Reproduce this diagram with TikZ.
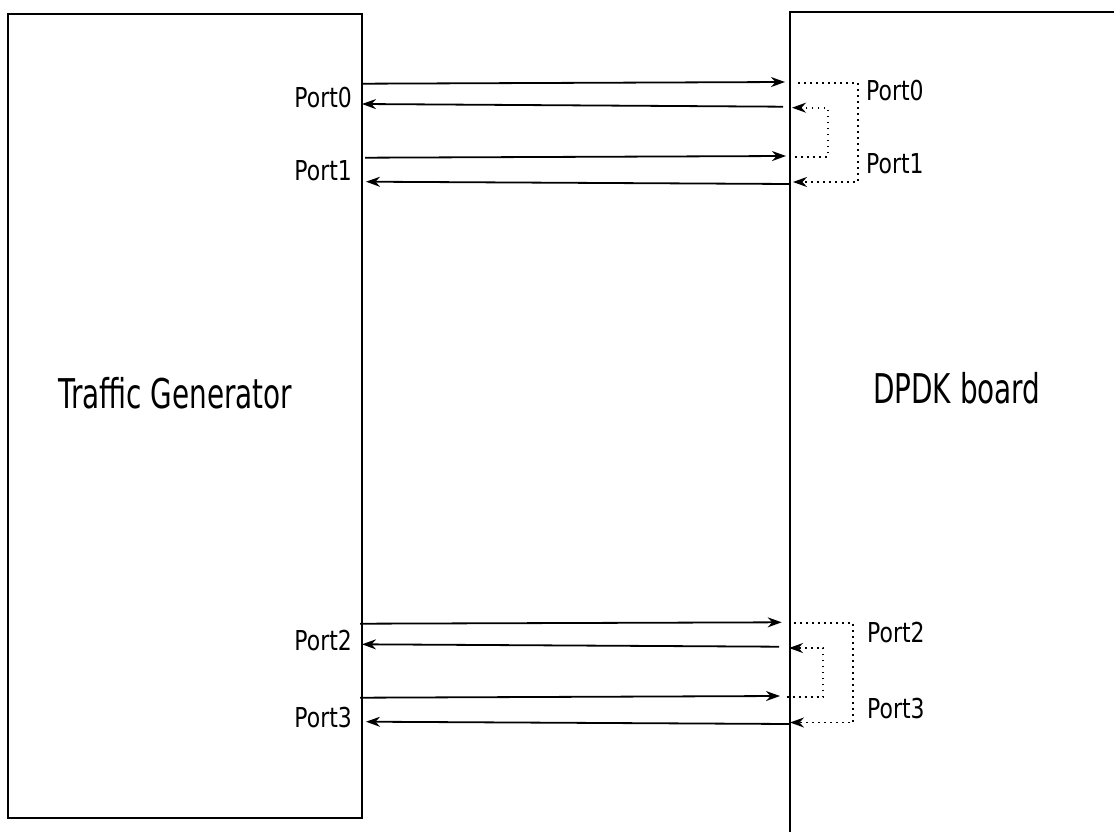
\documentclass[tikz,border=0pt]{standalone}
\usepackage{fontspec}
\newfontfamily\portfont[FakeStretch=0.8]{DejaVu Sans}
\newfontfamily\boxfont[FakeStretch=0.68]{DejaVu Sans}
\usetikzlibrary{arrows.meta}

\begin{document}
\begin{tikzpicture}[x=1pt,y=-1pt,
	vect/.style={line width=1.8pt,-{Stealth[length=14pt,width=10pt,inset=4.5pt]}},
	loop/.style={vect,dash pattern=on 1.8pt off 4.2pt},
	lbl/.style={inner sep=0pt,font=\portfont\fontsize{27.4}{30}\selectfont},
	title/.style={inner sep=0pt,font=\boxfont\fontsize{41}{46}\selectfont}]
		\useasboundingbox (0,0) rectangle (1114,832);% size of the page
		\clip (0,0) rectangle (1114,832);
		\draw[line width=2.2pt] (8,14) rectangle (362,818);% traffic generator
		\draw[line width=2.2pt] (790,12) rectangle (1140,860);% board, cut by the page
		\node[title,anchor=base west] (TG) at (58,408) {Traffic Generator};
		\node[title,anchor=base west] (DB) at (873,403) {DPDK board};
		% ports, left side
		\node[lbl,anchor=base east] (L0) at (352,108) {Port0};
		\node[lbl,anchor=base east] (L1) at (352,180) {Port1};
		\node[lbl,anchor=base east] (L2) at (352,650) {Port2};
		\node[lbl,anchor=base east] (L3) at (352,727) {Port3};
		% ports, right side
		\node[lbl,anchor=base west] (R0) at (866,101) {Port0};
		\node[lbl,anchor=base west] (R1) at (866,173) {Port1};
		\node[lbl,anchor=base west] (R2) at (867,642) {Port2};
		\node[lbl,anchor=base west] (R3) at (867,718) {Port3};
		% end points of the links
		\coordinate (A) at (363,83.7); \coordinate (A') at (785,82);
		\coordinate (B) at (783,106.7); \coordinate (B') at (362,104);
		\coordinate (C) at (365,157.7); \coordinate (C') at (786,156);
		\coordinate (D) at (790,184); \coordinate (D') at (366,181.7);
		\coordinate (E) at (360,623.7); \coordinate (E') at (781.7,622.3);
		\coordinate (F) at (779,646.7); \coordinate (F') at (362,644.3);
		\coordinate (G) at (360,697.7); \coordinate (G') at (780,696);
		\coordinate (H) at (790,724); \coordinate (H') at (366,721.7);
		\draw[vect] (A) -- (A');
		\draw[vect] (B) -- (B');
		\draw[vect] (C) -- (C');
		\draw[vect] (D) -- (D');
		\draw[vect] (E) -- (E');
		\draw[vect] (F) -- (F');
		\draw[vect] (G) -- (G');
		\draw[vect] (H) -- (H');
		% loopback on the board
		\draw[loop] (798,82.7) -- (857.7,82.7) -- (857.7,182) -- (793,182);
		\draw[loop] (795,156.7) -- (827.7,156.7) -- (827.7,107.7) -- (792,107.7);
		\draw[loop] (794,622.7) -- (853,622.7) -- (853,722.5) -- (790,722.5);
		\draw[loop] (786.7,696.7) -- (823.3,696.7) -- (823.3,648) -- (789,648);
	\end{tikzpicture}
\end{document}
